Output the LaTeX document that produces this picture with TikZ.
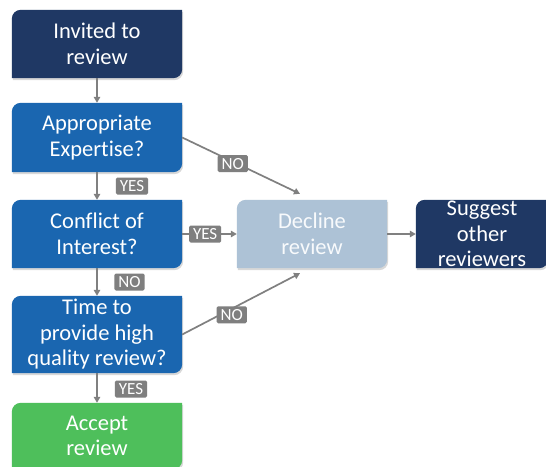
\documentclass[tikz,border=0pt]{standalone}
\usepackage{fontspec}
\setmainfont{Carlito}[Ligatures=NoCommon]
\usetikzlibrary{arrows.meta,backgrounds}
\definecolor{navy}{HTML}{1F3864}
\definecolor{midblue}{HTML}{1A66B0}
\definecolor{lightblue}{HTML}{ADC2D6}
\definecolor{accgreen}{HTML}{4EBF5B}
\definecolor{lblgray}{HTML}{7F7F7F}
\definecolor{lngray}{HTML}{808080}
\tikzset{
  box/.style={minimum width=170pt, inner sep=0pt, align=center, text=white,
    font=\fontsize{22.5}{25.5}\selectfont},
  lbl/.style={fill=lblgray, text=white, font=\fontsize{17}{17}\selectfont,
    inner xsep=4pt, inner ysep=0pt, rounded corners=1.5pt, minimum height=17pt},
  conn/.style={draw=lngray, line width=1.7pt, -{Triangle[length=6pt,width=6.5pt]}}
}
\newcommand\dshape[3]{%
  \fill[#2] ([shift={#3}]#1.south west) -- ([shift={#3},yshift=-9pt]#1.north west)
    arc[start angle=180,end angle=90,radius=9pt] -- ([shift={#3}]#1.north east)
    -- ([shift={#3},yshift=9pt]#1.south east)
    arc[start angle=0,end angle=-90,radius=9pt] -- cycle;}
\newcommand\fullshape[2]{%
  \dshape{#1}{black!30,opacity=0.5}{(1pt,-2pt)}%
  \dshape{#1}{#2}{(0pt,0pt)}}
\begin{document}
\begin{tikzpicture}[x=1pt,y=-1pt]
\useasboundingbox (0,0) rectangle (546,466);
\node[box, minimum height=68pt] (inv) at (97,44) {Invited to\\review};
\node[box, minimum height=69pt] (app) at (97,137.5) {Appropriate\\Expertise?};
\node[box, minimum height=68pt] (coi) at (97,234) {Conflict of\\Interest?};
\node[box, minimum height=77pt] (tim) at (97,334.5) {Time to\\provide high\\quality review?};
\node[box, minimum height=66pt] (acc) at (97,436) {Accept\\review};
\node[box, minimum height=68pt, minimum width=150pt, text=white!92!lightblue] (dec) at (312,234) {Decline\\review};
\node[box, minimum height=68pt, minimum width=132pt] (sug) at (482,234) {Suggest\\other\\reviewers};
\begin{pgfonlayer}{background}
\fill[white] (0,0) rectangle (546,466);
\fullshape{inv}{navy}
\fullshape{app}{midblue}
\fullshape{coi}{midblue}
\fullshape{tim}{midblue}
\fullshape{acc}{accgreen}
\fullshape{dec}{lightblue}
\fullshape{sug}{navy}
\end{pgfonlayer}
\draw[conn] (inv.south) -- (app.north);
\draw[conn] (app.south) -- (coi.north);
\draw[conn] (coi.south) -- (tim.north);
\draw[conn] (tim.south) -- (acc.north);
\draw[conn] (app.east) -- ([xshift=-12pt,yshift=6pt]dec.north) node[lbl, pos=0.43, yshift=-2pt] {NO};
\draw[conn] (coi.east) -- (dec.west) node[lbl, pos=0.42] {YES};
\draw[conn] (tim.east) -- ([xshift=-12pt,yshift=-5pt]dec.south) node[lbl, pos=0.42, yshift=-6pt] {NO};
\draw[conn] (dec.east) -- (sug.west);
\node[lbl] (l1) at (132,186) {YES};
\node[lbl] (l2) at (129.5,282) {NO};
\node[lbl] (l3) at (131,389) {YES};
\end{tikzpicture}
\end{document}
